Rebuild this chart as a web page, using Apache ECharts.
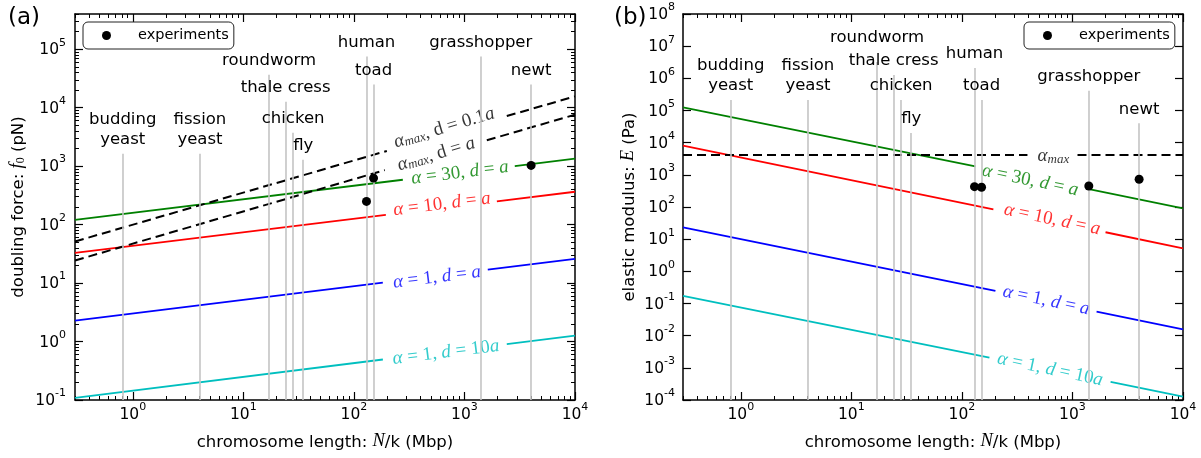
<!DOCTYPE html>
<html><head><meta charset="utf-8">
<script src="https://cdn.jsdelivr.net/npm/echarts@6/dist/echarts.min.js"></script>
<style>html,body{margin:0;padding:0;background:#fff}#c{width:1201px;height:458px}</style>
</head><body><div id="c"></div>
<script>
// ---------------- data ----------------
const organismNames = ['budding\nyeast','fission\nyeast','roundworm','thale cress','chicken','fly','human','toad','grasshopper','newt'];
const chromosomeLength = [0.81, 4.05, 17.1, 24.1, 28.2, 34.8, 130, 150.6, 1406, 4010];   // Mbp
const lineTopForce = [1630, 1630, 36700, 12680, 3730, 1290, 74700, 24800, 74700, 24800];  // panel (a) guide tops (pN)
const lineTopModulus = [2.12e5, 2.12e5, 3.2e6, 1.27e6, 2.12e5, 2.0e4, 2.1e6, 2.12e5, 4.13e5, 4.0e4]; // panel (b) guide tops (Pa)

const expLengthA = [130, 150.6, 4010];
const expForceA = [249, 625, 1028];
const expLengthB = [130, 150.6, 1406, 4010];
const expModulusB = [428, 410, 450, 727];

// panel (a) curves, each split in two segments around its inline label
const forceAlpha30 = [[[0.3, 120.8], [277, 585]], [[2853, 1004], [10000, 1340]]];
const forceAlpha10 = [[[0.3, 32.9], [194.5, 146.6]], [[1963, 250.6], [10000, 364.5]]];
const forceAlpha1 = [[[0.3, 2.28], [182.8, 10.2]], [[1626, 17.0], [10000, 25.97]]];
const forceAlpha1d10 = [[[0.3, 0.109], [182.8, 0.493]], [[2415, 0.905], [10000, 1.26]]];
const forceMaxD01 = [[[0.3, 51.4], [198.6, 1820]], [[2415, 7180], [10000, 15600]]];
const forceMaxD1 = [[[0.3, 24.3], [190.5, 855]], [[1593, 2767], [10000, 7590]]];
// inline label anchor points (a): alpha30, alpha10, alpha1, alpha1 d10, max d0.1, max d1
const forceLabelPos = [[908, 811], [624, 236], [562, 13.3], [678, 0.69], [650, 4786], [551, 1695]];

// panel (b) curves
const modAlpha30 = [[[0.3, 1.26e5], [132.4, 1845]], [[1341, 371.5], [10000, 91.2]]];
const modAlpha10 = [[[0.3, 8054], [192.7, 84.9]], [[1992, 16.4], [10000, 5.21]]];
const modAlpha1 = [[[0.3, 23.4], [201, 0.247]], [[1652, 0.0561], [10000, 0.0158]]];
const modAlpha1d10 = [[[0.3, 0.1714], [177.4, 2.08e-3]], [[2213, 3.64e-4], [10000, 1.27e-4]]];
const modMax = [[[0.3, 4140], [391.7, 4140]], [[1111, 4140], [10000, 4140]]];
const modLabelPos = [[417, 743], [659, 45.6], [582, 0.138], [632, 9.9e-4], [673, 4140]];

// axes
const xRange = [0.3, 10000];
const yRangeA = [0.1, 4e5];
const yRangeB = [1e-4, 1e8];
const xMajorTicks = [1, 10, 100, 1000, 10000];
const yMajorTicksA = [0.1, 1, 10, 100, 1000, 10000, 100000];
const yMajorTicksB = [1e-4, 1e-3, 1e-2, 1e-1, 1, 10, 100, 1e3, 1e4, 1e5, 1e6, 1e7, 1e8];
const minorMantissa = [2, 3, 4, 5, 6, 7, 8, 9];
const minorDecades = [0.1, 1, 10, 100, 1000, 10000, 100000];

// ---------------- styling helpers ----------------
const FONT = 'DejaVu Sans';
const MATH = 'Liberation Serif';
const minorTicks = [];
minorDecades.forEach(d => minorMantissa.forEach(m => minorTicks.push(+(d * m).toPrecision(3))));

const tickRich = {
  b: {fontSize: 15.5, fontFamily: FONT, color: '#000', lineHeight: 18, verticalAlign: 'bottom'},
  s: {fontSize: 11, fontFamily: FONT, color: '#000', lineHeight: 11, padding: [0, 0, 10, 0], verticalAlign: 'bottom'}
};
function pow10Label(v) { const e = Math.round(Math.log10(v)); return '{b|10}{s|' + e + '}'; }

const AX = {color: '#000', width: 1.5};
const nameRich = {
  n: {fontFamily: FONT, fontSize: 16.5, color: '#000', lineHeight: 22, verticalAlign: 'bottom'},
  i: {fontFamily: MATH, fontStyle: 'italic', fontSize: 18.5, color: '#000', lineHeight: 22, verticalAlign: 'bottom'},
  sub: {fontFamily: MATH, fontSize: 12, color: '#000', lineHeight: 12, padding: [9, 0, 0, 0], verticalAlign: 'bottom'}
};

function axisSet(kind, gridIndex, range, majors, minors, posA, posB, nameCfg, labelMargin) {
  const common = {type: 'log', logBase: 10, gridIndex, min: range[0], max: range[1], splitLine: {show: false}, axisPointer: {show: false}};
  const list = [];
  const main = Object.assign({}, common, {
    position: posA,
    axisLine: {show: true, onZero: false, lineStyle: AX},
    axisTick: {show: true, inside: true, length: 8, customValues: majors, lineStyle: {color: '#000', width: 1.2}},
    axisLabel: {show: true, customValues: majors, formatter: pow10Label, margin: labelMargin, rich: tickRich, color: '#000'}
  }, nameCfg);
  list.push(main);
  if (minors) list.push(Object.assign({}, common, {position: posA, axisLine: {show: false, onZero: false},
    axisTick: {show: true, inside: true, length: 4, customValues: minors, lineStyle: {color: '#000', width: 1}}, axisLabel: {show: false}}));
  list.push(Object.assign({}, common, {position: posB, axisLine: {show: true, onZero: false, lineStyle: AX},
    axisTick: {show: true, inside: true, length: 8, customValues: majors, lineStyle: {color: '#000', width: 1.2}}, axisLabel: {show: false}}));
  if (minors) list.push(Object.assign({}, common, {position: posB, axisLine: {show: false, onZero: false},
    axisTick: {show: true, inside: true, length: 4, customValues: minors, lineStyle: {color: '#000', width: 1}}, axisLabel: {show: false}}));
  return list;
}

const xName = {name: '{n|chromosome length: }{i|N}{n|/k (Mbp)}', nameLocation: 'middle', nameGap: 29, nameTextStyle: {rich: nameRich}};
const xAxes = [
  ...axisSet('x', 0, xRange, xMajorTicks, minorTicks, 'bottom', 'top', xName, 5),
  ...axisSet('x', 1, xRange, xMajorTicks, minorTicks, 'bottom', 'top', xName, 5)
];
const yAxes = [
  ...axisSet('y', 0, yRangeA, yMajorTicksA, minorTicks, 'left', 'right',
    {name: '{n|doubling force: }{i|f}{sub|0}{n| (pN)}', nameLocation: 'middle', nameGap: 48, nameTextStyle: {rich: nameRich}}, 9),
  ...axisSet('y', 1, yRangeB, yMajorTicksB, null, 'left', 'right',
    {name: '{n|elastic modulus: }{i|E}{n| (Pa)}', nameLocation: 'middle', nameGap: 45, nameTextStyle: {rich: nameRich}}, 8)
];
// index of main axes: x grid0 -> 0, grid1 -> 4 ; y grid0 -> 0, grid1 -> 4

const GREEN = '#008000', RED = '#ff0000', BLUE = '#0000ff', CYAN = '#00bfbf';

function curveSeries(segs, color, xi, yi, dashed) {
  return segs.map(seg => ({
    type: 'line', xAxisIndex: xi, yAxisIndex: yi, data: seg, symbol: 'none', silent: true, z: 3,
    lineStyle: {color: dashed ? '#000' : color, width: dashed ? 2 : 1.8, type: dashed ? [9, 5] : 'solid'}
  }));
}
function mathRich(color) {
  return {
    r: {fontFamily: MATH, fontSize: 19, color, lineHeight: 22, verticalAlign: 'bottom'},
    i: {fontFamily: MATH, fontStyle: 'italic', fontSize: 19, color, lineHeight: 22, verticalAlign: 'bottom'},
    sub: {fontFamily: MATH, fontStyle: 'italic', fontSize: 13, color, lineHeight: 13, padding: [9, 0, 0, 0], verticalAlign: 'bottom'}
  };
}
function labelItem(pos, text, color, rotate) {
  return {value: pos, label: {show: true, position: 'inside', formatter: text, rotate, align: 'center', verticalAlign: 'middle', rich: mathRich(color)}};
}
const T30 = '{i|α}{r| = 30, }{i|d}{r| = }{i|a}';
const T10 = '{i|α}{r| = 10, }{i|d}{r| = }{i|a}';
const T1 = '{i|α}{r| = 1, }{i|d}{r| = }{i|a}';
const T1d10 = '{i|α}{r| = 1, }{i|d}{r| = 10}{i|a}';
const TMax01 = '{i|α}{sub|max}{r|, d = 0.1}{i|a}';
const TMax1 = '{i|α}{sub|max}{r|, d = }{i|a}';
const TMax = '{i|α}{sub|max}';

function guideSeries(xi, yi, tops, ymin, dists) {
  return {
    type: 'line', xAxisIndex: xi, yAxisIndex: yi, data: [], silent: true, z: 1,
    markLine: {
      silent: true, symbol: ['none', 'none'], animation: false,
      lineStyle: {color: '#c4c4c4', width: 1.6, type: 'solid'},
      emphasis: {disabled: true},
      label: {show: true, position: 'end', distance: 4, formatter: p => p.name, fontFamily: FONT, fontSize: 16.5, lineHeight: 20, color: '#000'},
      data: organismNames.map((n, i) => [
        {name: n, coord: [chromosomeLength[i], ymin], label: dists && dists[i] ? {distance: dists[i]} : undefined},
        {coord: [chromosomeLength[i], tops[i]]}
      ])
    }
  };
}

const series = [
  guideSeries(0, 0, lineTopForce, yRangeA[0]),
  guideSeries(4, 4, lineTopModulus, yRangeB[0], [0, 0, 14, 0, 0, 0, 0, 0, 0, 0]),
  ...curveSeries(forceAlpha30, GREEN, 0, 0),
  ...curveSeries(forceAlpha10, RED, 0, 0),
  ...curveSeries(forceAlpha1, BLUE, 0, 0),
  ...curveSeries(forceAlpha1d10, CYAN, 0, 0),
  ...curveSeries(forceMaxD01, '#000', 0, 0, true),
  ...curveSeries(forceMaxD1, '#000', 0, 0, true),
  ...curveSeries(modAlpha30, GREEN, 4, 4),
  ...curveSeries(modAlpha10, RED, 4, 4),
  ...curveSeries(modAlpha1, BLUE, 4, 4),
  ...curveSeries(modAlpha1d10, CYAN, 4, 4),
  ...curveSeries(modMax, '#000', 4, 4, true),
  {
    type: 'scatter', xAxisIndex: 0, yAxisIndex: 0, symbolSize: 0, silent: true, z: 4,
    data: [
      labelItem(forceLabelPos[0], T30, GREEN, 7),
      labelItem(forceLabelPos[1], T10, RED, 7),
      labelItem(forceLabelPos[2], T1, BLUE, 7),
      labelItem(forceLabelPos[3], T1d10, CYAN, 7),
      labelItem(forceLabelPos[4], TMax01, '#000', 16.5),
      labelItem(forceLabelPos[5], TMax1, '#000', 16.5)
    ]
  },
  {
    type: 'scatter', xAxisIndex: 4, yAxisIndex: 4, symbolSize: 0, silent: true, z: 4,
    data: [
      labelItem(modLabelPos[0], T30, GREEN, -12),
      labelItem(modLabelPos[1], T10, RED, -12),
      labelItem(modLabelPos[2], T1, BLUE, -12),
      labelItem(modLabelPos[3], T1d10, CYAN, -12),
      labelItem(modLabelPos[4], TMax, '#000', 0)
    ]
  },
  {
    name: 'experiments', type: 'scatter', xAxisIndex: 0, yAxisIndex: 0, symbol: 'circle', symbolSize: 9, z: 5,
    itemStyle: {color: '#000', opacity: 1}, data: expLengthA.map((x, i) => [x, expForceA[i]])
  },
  {
    name: 'experiments', type: 'scatter', xAxisIndex: 4, yAxisIndex: 4, symbol: 'circle', symbolSize: 9, z: 5,
    itemStyle: {color: '#000', opacity: 1}, data: expLengthB.map((x, i) => [x, expModulusB[i]])
  }
];

const legendCommon = {
  data: ['experiments'], icon: 'circle', itemWidth: 9, itemHeight: 9, selectedMode: false,
  backgroundColor: '#fff', borderColor: '#222', borderWidth: 1, borderRadius: 5,
  itemStyle: {color: '#000', opacity: 1},
  padding: [6, 5, 6, 19], textStyle: {fontFamily: FONT, fontSize: 14.5, color: '#000', padding: [0, 0, 0, 22]}
};

const option = {
  animation: false,
  textStyle: {fontFamily: FONT},
  title: [
    {text: '(a)', left: 3, top: 2, textStyle: {fontFamily: FONT, fontSize: 23, fontWeight: 'normal', color: '#000'}},
    {text: '(b)', left: 609, top: 2, textStyle: {fontFamily: FONT, fontSize: 23, fontWeight: 'normal', color: '#000'}}
  ],
  legend: [
    Object.assign({}, legendCommon, {left: 83, top: 22}),
    Object.assign({}, legendCommon, {left: 1024, top: 22})
  ],
  grid: [
    {left: 75, top: 14, width: 500, height: 386, containLabel: false},
    {left: 683, top: 14, width: 500, height: 386, containLabel: false}
  ],
  xAxis: xAxes,
  yAxis: yAxes,
  series
};

const chart = echarts.init(document.getElementById('c'), null, {renderer: 'canvas'});
chart.setOption(option);
</script>
</body></html>
